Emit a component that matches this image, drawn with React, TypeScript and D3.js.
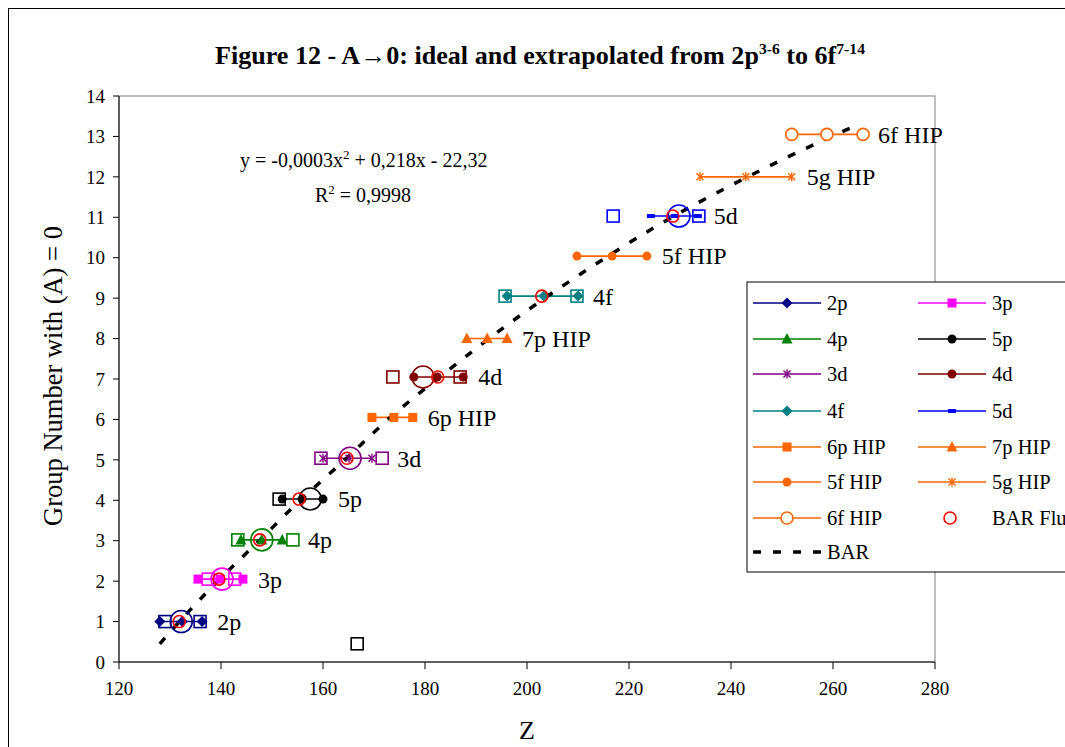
import * as d3 from 'd3';

// series with three points each (left, centre, right)
const seriesNames = ['2p', '3p', '4p', '5p', '3d', '4d', '4f', '5d', '6p HIP', '7p HIP', '5f HIP', '5g HIP', '6f HIP'];
const seriesColors = ['#000080', '#FF00FF', '#008000', '#000000', '#800080', '#800000', '#008080', '#0000FF', '#FF6600', '#FF6600', '#FF6600', '#FF6600', '#FF6600'];
const seriesMarkers = ['diamond', 'square', 'triangle', 'circle', 'asterisk', 'circle', 'diamond', 'dash', 'square', 'triangle', 'circle', 'asterisk', 'openCircle'];
const groupLevels = [1.0, 2.05, 3.02, 4.03, 5.04, 7.05, 9.05, 11.03, 6.05, 8.0, 10.04, 12.0, 13.05];
const seriesZ = [
  [128.0, 132.4, 136.3],
  [135.5, 139.8, 144.3],
  [143.9, 148.0, 152.0],
  [152.0, 155.9, 160.0],
  [160.0, 165.1, 169.6],
  [177.8, 182.4, 187.5],
  [196.1, 203.3, 210.0],
  [224.3, 229.0, 233.5],
  [169.6, 173.9, 177.6],
  [188.2, 192.2, 196.1],
  [209.8, 216.7, 223.5],
  [233.9, 242.9, 251.9],
  [251.9, 258.8, 265.9],
];
// ideal (open squares) and centre (big open circle) per series
const idealZ = [[129.0, 135.9], [137.5, 142.7], [143.3, 154.1], [151.4], [159.6, 171.6], [173.7, 186.9], [195.7, 209.8], [216.9, 233.7], [], [], [], [], []];
const centreZ = [132.2, 140.2, 148.0, 157.5, 165.3, 179.6, null, 229.8, null, null, null, null, null];
// BAR Flu points (first 8 series)
const barFluZ = [131.8, 139.6, 147.6, 155.3, 164.7, 182.5, 202.9, 228.6];
const strayZ = 166.7;
const strayLevel = 0.45;
// BAR trend line
const barZ = [128.0, 131.8, 139.2, 147.6, 155.3, 164.5, 172.4, 182.4, 192.4, 203.3, 215.3, 228.0, 243.1, 254.5, 263.3];
const barLevel = [0.45, 1, 2, 3, 4, 5, 6, 7, 8, 9, 10, 11, 12, 12.7, 13.2];

const xTicks = [120, 140, 160, 180, 200, 220, 240, 260, 280];
const yTicks = d3.range(0, 15);

const legendOrder = ['2p', '3p', '4p', '5p', '3d', '4d', '4f', '5d', '6p HIP', '7p HIP', '5f HIP', '5g HIP', '6f HIP', 'BAR Flu', 'BAR'];

const serif = '"Liberation Serif", "Times New Roman", serif';

function Marker({ type, x, y, color }: { type: string; x: number; y: number; color: string }) {
  switch (type) {
    case 'diamond':
      return <polygon points={`${x},${y - 5.5} ${x + 5.5},${y} ${x},${y + 5.5} ${x - 5.5},${y}`} fill={color} />;
    case 'square':
      return <rect x={x - 4.5} y={y - 4.5} width={9} height={9} fill={color} />;
    case 'triangle':
      return <polygon points={`${x},${y - 6} ${x + 5.5},${y + 4.5} ${x - 5.5},${y + 4.5}`} fill={color} />;
    case 'circle':
      return <circle cx={x} cy={y} r={4.5} fill={color} />;
    case 'openCircle':
      return <circle cx={x} cy={y} r={6} fill="#fff" stroke={color} strokeWidth={1.6} />;
    case 'dash':
      return <rect x={x - 4} y={y - 2} width={8} height={4} fill={color} />;
    case 'asterisk':
      return (
        <g stroke={color} strokeWidth={1.4}>
          <line x1={x - 3.5} y1={y - 3.5} x2={x + 3.5} y2={y + 3.5} />
          <line x1={x - 3.5} y1={y + 3.5} x2={x + 3.5} y2={y - 3.5} />
          <line x1={x} y1={y - 4.5} x2={x} y2={y + 4.5} />
        </g>
      );
    case 'redCircle':
      return <circle cx={x} cy={y} r={6} fill="none" stroke="#FF0000" strokeWidth={1.6} />;
    default:
      return null;
  }
}

export default function App() {
  const x = d3.scaleLinear().domain([120, 280]).range([119, 935]);
  const y = d3.scaleLinear().domain([0, 14]).range([662, 96]);

  const line = d3.line<number>().x((d) => x(d)).y(() => 0);
  const barLine = d3
    .line<[number, number]>()
    .x((d) => x(d[0]))
    .y((d) => y(d[1]))
    .curve(d3.curveBasis);
  const barPts: [number, number][] = barZ.map((z, i) => [z, barLevel[i]]);

  const legX = [753, 918];
  const legRows = [303, 339, 374, 411, 447, 482, 518, 552];

  return (
    <svg width={1065} height={747} style={{ position: 'absolute', left: 0, top: 0 }} fontFamily={serif}>
      <rect x={0} y={0} width={1065} height={747} fill="#fff" />
      <rect x={8.5} y={8.5} width={1100} height={800} fill="none" stroke="#000" strokeWidth={1} />

      {/* title */}
      <text x={215} y={64} fontSize={25} fontWeight="bold" textLength={650} lengthAdjust="spacingAndGlyphs">
        Figure 12 - A→0: ideal and extrapolated from 2p
        <tspan fontSize={15} dy={-10}>3-6</tspan>
        <tspan dy={10}> to 6f</tspan>
        <tspan fontSize={15} dy={-10}>7-14</tspan>
      </text>

      {/* plot area */}
      <rect x={119} y={96} width={816} height={566} fill="none" stroke="#808080" strokeWidth={1} />
      <line x1={119} y1={96} x2={119} y2={662} stroke="#000" />
      <line x1={119} y1={662} x2={935} y2={662} stroke="#000" />
      {yTicks.map((t) => (
        <g key={`y${t}`}>
          <line x1={113} x2={119} y1={y(t)} y2={y(t)} stroke="#000" />
          <text x={105} y={y(t)} dy="0.35em" textAnchor="end" fontSize={19}>
            {t}
          </text>
        </g>
      ))}
      {xTicks.map((t) => (
        <g key={`x${t}`}>
          <line x1={x(t)} x2={x(t)} y1={662} y2={669} stroke="#000" />
          <text x={x(t)} y={695} textAnchor="middle" fontSize={19}>
            {t}
          </text>
        </g>
      ))}
      <text x={527} y={739} textAnchor="middle" fontSize={26}>
        Z
      </text>
      <text transform={`translate(62,376) rotate(-90)`} textAnchor="middle" fontSize={26.5}>
        Group Number with (A) = 0
      </text>

      {/* equation */}
      <text x={240} y={167} fontSize={20}>
        y = -0,0003x<tspan fontSize={13} dy={-8}>2</tspan>
        <tspan dy={8}> + 0,218x - 22,32</tspan>
      </text>
      <text x={315} y={202} fontSize={20}>
        R<tspan fontSize={13} dy={-8}>2</tspan>
        <tspan dy={8}> = 0,9998</tspan>
      </text>

      {/* series lines */}
      {seriesNames.map((name, i) => (
        <path
          key={name}
          d={line(seriesZ[i])!}
          transform={`translate(0,${y(groupLevels[i])})`}
          fill="none"
          stroke={seriesColors[i]}
          strokeWidth={1.6}
        />
      ))}

      {/* BAR trend */}
      <path d={barLine(barPts)!} fill="none" stroke="#000" strokeWidth={3.5} strokeDasharray="8 12" />

      {/* ideal squares */}
      {idealZ.map((zs, i) =>
        zs.map((z, j) => (
          <rect key={`sq${i}-${j}`} x={x(z) - 6} y={y(groupLevels[i]) - 6} width={12} height={12} fill="none" stroke={seriesColors[i]} strokeWidth={1.6} />
        ))
      )}
      <rect x={x(strayZ) - 6} y={y(strayLevel) - 6} width={12} height={12} fill="none" stroke="#000" strokeWidth={1.6} />

      {/* series markers */}
      {seriesNames.map((name, i) =>
        seriesZ[i].map((z, j) => <Marker key={`m${i}-${j}`} type={seriesMarkers[i]} x={x(z)} y={y(groupLevels[i])} color={seriesColors[i]} />)
      )}

      {/* centre circles */}
      {centreZ.map((z, i) =>
        z == null ? null : <circle key={`c${i}`} cx={x(z)} cy={y(groupLevels[i])} r={11} fill="none" stroke={seriesColors[i]} strokeWidth={1.6} />
      )}

      {/* BAR Flu */}
      {barFluZ.map((z, i) => (
        <Marker key={`bf${i}`} type="redCircle" x={x(z)} y={y(groupLevels[i])} color="#FF0000" />
      ))}

      {/* labels */}
      {seriesNames.map((name, i) => {
        const maxZ = Math.max(...seriesZ[i], ...idealZ[i]);
        return (
          <text key={`l${i}`} x={x(maxZ) + 15} y={y(groupLevels[i])} dy="0.35em" fontSize={24}>
            {name}
          </text>
        );
      })}

      {/* legend */}
      <rect x={747} y={282} width={400} height={290} fill="#fff" stroke="#000" strokeWidth={1} />
      {legendOrder.map((name, k) => {
        const col = k % 2;
        const row = Math.floor(k / 2);
        const lx = legX[col];
        const ly = legRows[row];
        const si = seriesNames.indexOf(name);
        return (
          <g key={`lg${name}`}>
            {si >= 0 && (
              <>
                <line x1={lx} x2={lx + 68} y1={ly} y2={ly} stroke={seriesColors[si]} strokeWidth={1.6} />
                <Marker type={seriesMarkers[si]} x={lx + 34} y={ly} color={seriesColors[si]} />
              </>
            )}
            {name === 'BAR Flu' && <Marker type="redCircle" x={lx + 32} y={ly} color="#FF0000" />}
            {name === 'BAR' && (
              <line x1={lx} x2={lx + 68} y1={ly} y2={ly} stroke="#000" strokeWidth={3.5} strokeDasharray="8 12" />
            )}
            <text x={lx + 74} y={ly} dy="0.35em" fontSize={20.5}>
              {name}
            </text>
          </g>
        );
      })}
    </svg>
  );
}
